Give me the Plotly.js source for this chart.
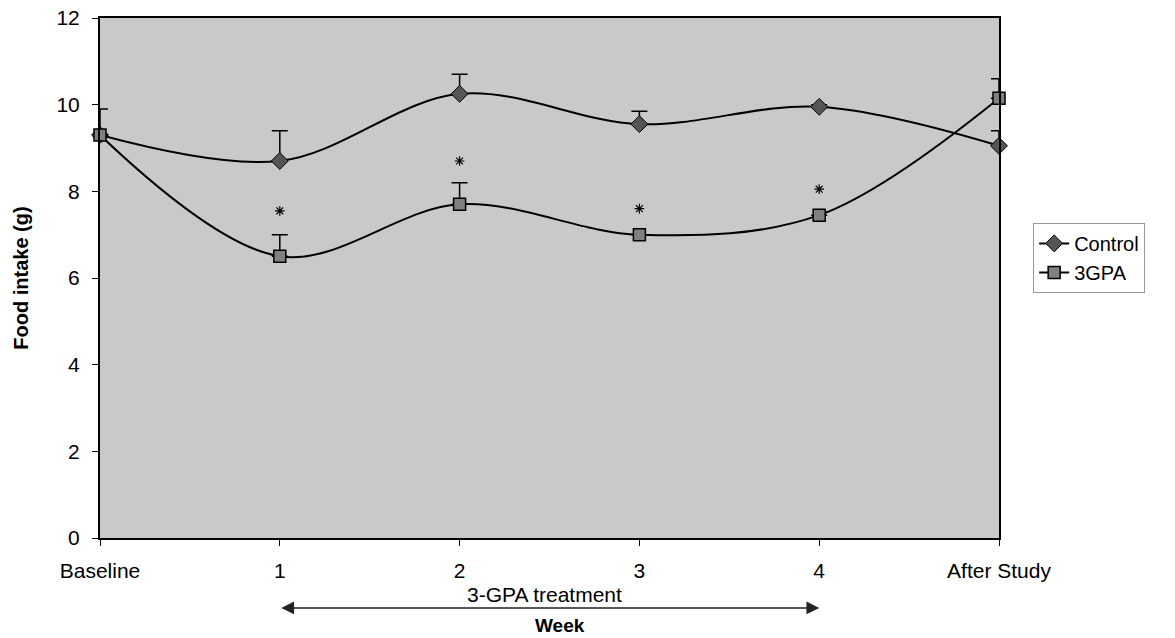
<!DOCTYPE html>
<html>
<head>
<meta charset="utf-8">
<script src="https://cdn.plot.ly/plotly-3.0.1.min.js"></script>
<style>html,body{margin:0;padding:0;background:#fff}</style>
</head>
<body>
<div id="chart" style="width:1175px;height:638px"></div>
<script>
const categories = ["Baseline", "1", "2", "3", "4", "After Study"];
const controlValues = [9.3, 8.7, 10.25, 9.55, 9.95, 9.05];
const controlErr = [0.6, 0.7, 0.45, 0.3, 0.05, 0.35];
const gpaValues = [9.3, 6.5, 7.7, 7.0, 7.45, 10.15];
const gpaErr = [0, 0.5, 0.5, 0, 0, 0.45];
const starValues = [null, 7.55, 8.7, 7.6, 8.05, null];
const yTicks = [0, 2, 4, 6, 8, 10, 12];

const xIdx = categories.map((c, i) => i);
const font = "Liberation Sans, Arial, sans-serif";

const traces = [
  {
    x: xIdx, y: controlValues, name: "Control", type: "scatter", mode: "lines+markers",
    cliponaxis: false,
    line: {color: "#000", width: 2, shape: "spline", smoothing: 1},
    marker: {symbol: "diamond", size: 13, color: "#555", line: {color: "#000", width: 1}},
    error_y: {type: "data", symmetric: false, array: controlErr, arrayminus: controlErr.map(() => 0),
              color: "#000", thickness: 1.5, width: 8}
  },
  {
    x: xIdx, y: gpaValues, name: "3GPA", type: "scatter", mode: "lines+markers",
    cliponaxis: false,
    line: {color: "#000", width: 2, shape: "spline", smoothing: 1},
    marker: {symbol: "square", size: 12, color: "#808080", line: {color: "#000", width: 1.5}},
    error_y: {type: "data", symmetric: false, array: gpaErr, arrayminus: gpaErr.map(() => 0),
              color: "#000", thickness: 1.5, width: 8}
  },
  {
    x: xIdx, y: starValues, name: "*", type: "scatter", mode: "markers", showlegend: false,
    cliponaxis: false, hoverinfo: "skip",
    marker: {symbol: "asterisk-open", size: 8, color: "#000", line: {color: "#000", width: 1.2}}
  }
];

const layout = {
  width: 1175, height: 638,
  margin: {l: 100, r: 176, t: 18, b: 100},
  paper_bgcolor: "#fff",
  plot_bgcolor: "#c9c9c9",
  font: {family: font, size: 20, color: "#000"},
  showlegend: true,
  legend: {
    x: 1.038, y: 0.606, xanchor: "left", yanchor: "top",
    bgcolor: "#fff", bordercolor: "#999", borderwidth: 1,
    font: {family: font, size: 20, color: "#000"},
    tracegroupgap: 2
  },
  xaxis: {
    range: [0, 5],
    tickmode: "array", tickvals: xIdx, ticktext: categories,
    showgrid: false, zeroline: false,
    showline: true, linecolor: "#000", linewidth: 2, mirror: true,
    ticks: "outside", ticklen: 6, tickcolor: "#000",
    ticklabelstandoff: 7,
    tickfont: {family: font, size: 21}
  },
  yaxis: {
    range: [0, 12],
    tickmode: "array", tickvals: yTicks,
    showgrid: false, zeroline: false,
    showline: true, linecolor: "#000", linewidth: 2, mirror: true,
    ticks: "outside", ticklen: 6, tickcolor: "#000",
    ticklabelstandoff: 8,
    tickfont: {family: font, size: 21},
    title: {text: "<b>Food intake (g)</b>", font: {family: font, size: 20}, standoff: 22}
  },
  annotations: [
    {
      xref: "x", yref: "paper", x: 4, y: -0.1346,
      axref: "x", ayref: "pixel", ax: 1, ay: 0,
      text: "", showarrow: true, arrowside: "end+start",
      arrowhead: 2, startarrowhead: 2, arrowsize: 1.7, startarrowsize: 1.7,
      arrowwidth: 1.5, arrowcolor: "#222"
    },
    {
      xref: "x", yref: "paper", x: 2.47, y: -0.1096, yanchor: "middle",
      text: "3-GPA treatment", showarrow: false,
      font: {family: font, size: 21}
    },
    {
      xref: "x", yref: "paper", x: 2.56, y: -0.168, yanchor: "middle",
      text: "<b>Week</b>", showarrow: false,
      font: {family: font, size: 19}
    }
  ]
};

Plotly.newPlot("chart", traces, layout, {displayModeBar: false, staticPlot: true});
</script>
</body>
</html>
